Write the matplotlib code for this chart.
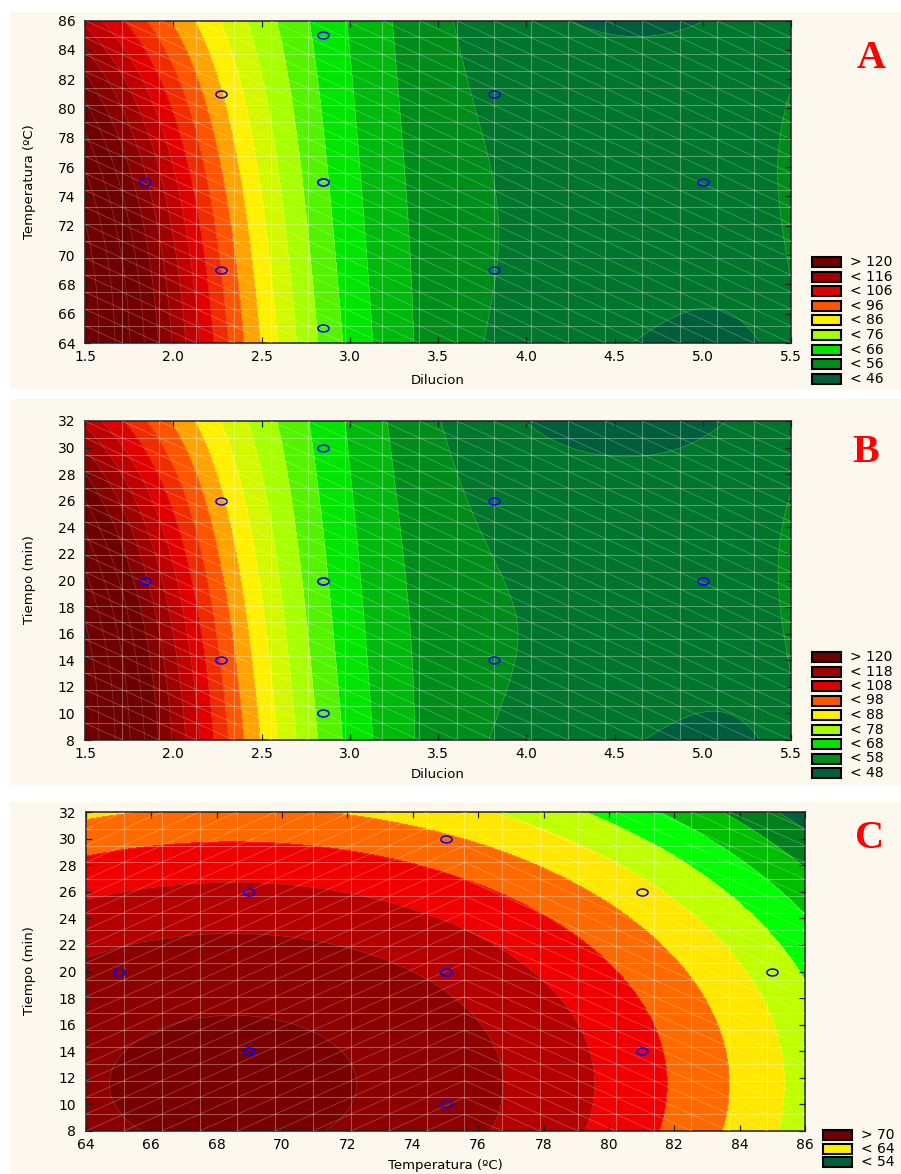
import numpy as np
import matplotlib
matplotlib.use("Agg")
import matplotlib.pyplot as plt
from matplotlib.patches import Rectangle
from matplotlib.path import Path
from matplotlib.collections import LineCollection
from matplotlib.colors import to_rgb

W, H = 901, 1174

# ---------------- Panel A : Dilucion x Temperatura ----------------
A_X_TICKS = [1.5, 2.0, 2.5, 3.0, 3.5, 4.0, 4.5, 5.0, 5.5]
A_Y_TICKS = [64, 66, 68, 70, 72, 74, 76, 78, 80, 82, 84, 86]
A_PTS_X = [1.84, 2.27, 2.27, 2.85, 2.85, 2.85, 2.85, 3.82, 3.82, 5.0]
A_PTS_Y = [75, 81, 69, 85, 75, 75, 65, 81, 69, 75]
# response read along three temperature rows (86, 75, 64 ºC)
A_ROW_T = [86, 75, 64]
A_TOP_D = [1.5, 1.66, 1.8, 1.9, 2.0, 2.19, 2.42, 2.57, 2.8, 3.1, 3.5, 3.8, 4.0, 4.3, 4.6, 5.0, 5.5]
A_TOP_Z = [110, 103.5, 98.5, 93.5, 88.5, 83.5, 78, 73.5, 63.5, 57, 52, 49.5, 48, 45.5, 45, 46, 49]
A_MID_D = [1.5, 1.65, 1.9, 2.1, 2.27, 2.45, 2.63, 2.9, 3.2, 3.5, 3.8, 4.0, 4.3, 4.6, 5.0, 5.5]
A_MID_Z = [140, 124, 113, 103.5, 93.5, 83.5, 73.5, 63.5, 58, 54, 52, 50.5, 49, 48.5, 49, 52]
A_BOT_D = [1.5, 1.75, 1.98, 2.2, 2.33, 2.56, 2.75, 3.0, 3.5, 3.8, 4.0, 4.3, 4.6, 5.0, 5.5]
A_BOT_Z = [145, 130, 118.5, 103.5, 93.5, 83.5, 73.5, 63.5, 55, 51, 49.5, 47, 45, 45.5, 49]
A_LEG_LABELS = ["> 120", "< 116", "< 106", "< 96", "< 86", "< 76", "< 66", "< 56", "< 46"]
A_LEG_LEVELS = [120, 116, 106, 96, 86, 76, 66, 56, 46]

# ---------------- Panel B : Dilucion x Tiempo ----------------
B_X_TICKS = [1.5, 2.0, 2.5, 3.0, 3.5, 4.0, 4.5, 5.0, 5.5]
B_Y_TICKS = [8, 10, 12, 14, 16, 18, 20, 22, 24, 26, 28, 30, 32]
B_PTS_X = [1.84, 2.27, 2.27, 2.85, 2.85, 2.85, 2.85, 3.82, 3.82, 5.0]
B_PTS_Y = [20, 26, 14, 30, 20, 20, 10, 26, 14, 20]
# response read along three time rows (32, 20, 8 min)
B_ROW_T = [32, 20, 8]
B_TOP_D = [1.5, 1.66, 1.8, 1.9, 2.0, 2.19, 2.42, 2.57, 2.8, 3.1, 3.5, 3.8, 4.0, 4.3, 4.6, 5.0, 5.5]
B_TOP_Z = [112, 105.5, 100.5, 95.5, 90.5, 85.5, 80, 75.5, 65.5, 59, 53, 50, 48.5, 46.5, 46, 47, 51]
B_MID_D = [1.5, 1.65, 1.9, 2.1, 2.27, 2.45, 2.63, 2.9, 3.2, 3.5, 3.8, 4.0, 4.3, 4.6, 5.0, 5.5]
B_MID_Z = [142, 126, 115, 105.5, 95.5, 85.5, 75.5, 65.5, 60, 56, 54, 53, 51.5, 51, 51, 54]
B_BOT_D = [1.5, 1.75, 1.98, 2.2, 2.33, 2.56, 2.75, 3.0, 3.5, 3.8, 4.0, 4.3, 4.6, 5.0, 5.5]
B_BOT_Z = [147, 132, 120.5, 105.5, 95.5, 85.5, 75.5, 65.5, 57, 53, 52, 49.5, 47.5, 47.5, 51]
B_LEG_LABELS = ["> 120", "< 118", "< 108", "< 98", "< 88", "< 78", "< 68", "< 58", "< 48"]
B_LEG_LEVELS = [120, 118, 108, 98, 88, 78, 68, 58, 48]

LEG_COLORS = ["#6E0000", "#A00000", "#E00000", "#FF5500", "#FFF000",
              "#A8FF00", "#00E600", "#008C1A", "#005E3C"]

# ---------------- Panel C : Temperatura x Tiempo ----------------
C_X_TICKS = [64, 66, 68, 70, 72, 74, 76, 78, 80, 82, 84, 86]
C_Y_TICKS = [8, 10, 12, 14, 16, 18, 20, 22, 24, 26, 28, 30, 32]
C_PTS_X = [65, 69, 69, 75, 75, 75, 75, 81, 81, 85]
C_PTS_Y = [20, 26, 14, 30, 20, 20, 10, 26, 14, 20]
# fitted response: PEAK - KT*(T - T0)^2 - KS*(t - S0)^2
C_PEAK, C_T0, C_S0, C_KT, C_KS = 70.53, 68.5, 11.5, 0.037, 0.0196
C_LEVELS = [30, 52, 54, 56, 58, 60, 62, 64, 66, 68, 70, 90]
C_BAND_COLORS = ["#005E3C", "#00801C", "#00BE00", "#00FF00", "#C0FF00", "#FFE800",
                 "#FF6A00", "#F00000", "#B40000", "#8C0000", "#780000"]
C_LEG_LABELS = ["> 70", "< 64", "< 54"]
C_LEG_COLORS = ["#6E0000", "#FFF000", "#005E3C"]

CREAM = "#FDF8EE"
plt.rcParams["font.family"] = ["DejaVu Sans"]

fig = plt.figure(figsize=(W / 100, H / 100), dpi=100)


def fx(px):
    return px / W


def fy(py):
    return 1 - py / H


def fit_surface(rows_y, rows_x, rows_z, xc, yc, ysc, deg_x=5, deg_y=2):
    """Least-squares polynomial surface through values read along rows."""
    xs = np.concatenate([np.asarray(r, float) for r in rows_x])
    ys = np.concatenate([np.full(len(r), y, float) for r, y in zip(rows_x, rows_y)])
    zs = np.concatenate([np.asarray(r, float) for r in rows_z])
    terms = [(i, j) for i in range(deg_x + 1) for j in range(deg_y + 1)]

    def design(x, y):
        w = (np.asarray(x) - xc) / 2.0
        v = (np.asarray(y) - yc) / ysc
        return [w ** i * v ** j for i, j in terms]

    M = np.column_stack(design(xs, ys))
    coef, *_ = np.linalg.lstsq(M, zs, rcond=None)

    def evaluate(X, Y):
        return sum(c * b for c, b in zip(coef, design(X, Y)))

    return evaluate


def band_colors(levels, anchor_vals, anchor_cols):
    levels = np.asarray(levels, float)
    centers = (levels[:-1] + levels[1:]) / 2
    order = np.argsort(anchor_vals)
    av = np.asarray(anchor_vals, float)[order]
    rgb = np.array([to_rgb(c) for c in anchor_cols])[order]
    return [tuple(np.interp(c, av, rgb[:, k]) for k in range(3)) for c in centers]


def leg_anchors(levels):
    out = []
    for i, L in enumerate(levels):
        out.append(L + 5 if i == 0 else L - 2.5)
    return out


ellipse_t = np.linspace(0, 2 * np.pi, 41)
RING = Path(np.c_[np.cos(ellipse_t), 0.62 * np.sin(ellipse_t)], closed=True)


def draw_mesh(ax, xr, yr, n=19, split=None):
    xs = np.linspace(xr[0], xr[1], n + 1)
    ys = np.linspace(yr[0], yr[1], n + 1)
    segs = [[(x, yr[0]), (x, yr[1])] for x in xs[1:-1]]
    segs += [[(xr[0], y), (xr[1], y)] for y in ys[1:-1]]
    ax.add_collection(LineCollection(segs, colors="white", linewidths=0.8, alpha=0.32, zorder=3))
    diag = []
    for i in range(n):
        for j in range(n):
            xc = (xs[i] + xs[i + 1]) / 2
            if split is not None and xc < split:
                diag.append([(xs[i], ys[j]), (xs[i + 1], ys[j + 1])])
            else:
                diag.append([(xs[i], ys[j + 1]), (xs[i + 1], ys[j])])
    ax.add_collection(LineCollection(diag, colors="white", linewidths=0.6, alpha=0.25, zorder=3))


def style_axes(ax, xt, yt, xfmt):
    ax.set_xticks(xt)
    ax.set_yticks(yt)
    ax.set_xticklabels([xfmt(v) for v in xt])
    ax.set_yticklabels([str(v) for v in yt])
    ax.tick_params(direction="in", top=True, right=True, length=4, width=0.9,
                   labelsize=10, colors="#222222", labelcolor="black")
    ax.tick_params(axis="x", pad=5)
    ax.tick_params(axis="y", pad=7)
    for s in ax.spines.values():
        s.set_color("#202020")
        s.set_linewidth(1.1)


def draw_points(ax, px, py):
    ax.plot(px, py, linestyle="none", marker=RING, markersize=8,
            markerfacecolor="none", markeredgecolor="#0000FF", markeredgewidth=1.1, zorder=5)


def draw_legend(labels, colors, x_box, y0, dy, box_w=29, box_h=10):
    for k, (lab, col) in enumerate(zip(labels, colors)):
        yc = y0 + k * dy
        fig.patches.append(Rectangle((fx(x_box), fy(yc + box_h / 2)), box_w / W, box_h / H,
                                     transform=fig.transFigure, facecolor=col,
                                     edgecolor="black", linewidth=1.5, zorder=3))
        fig.text(fx(x_box + box_w + 9), fy(yc), lab, fontsize=10, va="center", ha="left",
                 family="DejaVu Sans")


# cream panel backgrounds, kept beneath the axes
for top, bot in [(12, 389), (399, 785), (802, 1174)]:
    fig.patches.append(Rectangle((fx(10), fy(bot)), (W - 10) / W, (bot - top) / H,
                                 transform=fig.transFigure, facecolor=CREAM,
                                 edgecolor="none", zorder=-5))

D = np.linspace(1.5, 5.5, 400)
T = np.linspace(64, 86, 400)
S = np.linspace(8, 32, 400)

# ---------------- A ----------------
axA = fig.add_axes([fx(85), fy(343), (791 - 85) / W, (343 - 20.5) / H])
DD, TT = np.meshgrid(D, T)
surfA = fit_surface(A_ROW_T, [A_TOP_D, A_MID_D, A_BOT_D], [A_TOP_Z, A_MID_Z, A_BOT_Z], 3.5, 75, 11)
ZA = surfA(DD, TT)
levA = np.arange(31, 161, 5)
axA.contourf(DD, TT, ZA, levels=levA,
             colors=band_colors(levA, leg_anchors(A_LEG_LEVELS), LEG_COLORS), zorder=1)
axA.contour(DD, TT, ZA, levels=levA, colors="white", linewidths=0.5, alpha=0.2, zorder=2)
draw_mesh(axA, (1.5, 5.5), (64, 86))
draw_points(axA, A_PTS_X, A_PTS_Y)
axA.set_xlim(1.5, 5.5)
axA.set_ylim(64, 86)
style_axes(axA, A_X_TICKS, A_Y_TICKS, lambda v: f"{v:.1f}")
fig.text(fx(438), fy(381), "Dilucion", fontsize=9.5, ha="center", va="center")
fig.text(fx(30), fy(182), "Temperatura (ºC)", fontsize=9.5, ha="center", va="center", rotation=90)
draw_legend(A_LEG_LABELS, LEG_COLORS, 812, 262, 14.6)
fig.text(fx(871), fy(58), "A", fontsize=29, fontweight="bold", color="#FF0000",
         family="Liberation Serif", ha="center", va="center")

# ---------------- B ----------------
axB = fig.add_axes([fx(85), fy(740), (791 - 85) / W, (740 - 421) / H])
DB, SB = np.meshgrid(D, S)
surfB = fit_surface(B_ROW_T, [B_TOP_D, B_MID_D, B_BOT_D], [B_TOP_Z, B_MID_Z, B_BOT_Z], 3.5, 20, 12)
ZB = surfB(DB, SB)
levB = np.arange(33, 163, 5)
axB.contourf(DB, SB, ZB, levels=levB,
             colors=band_colors(levB, leg_anchors(B_LEG_LEVELS), LEG_COLORS), zorder=1)
axB.contour(DB, SB, ZB, levels=levB, colors="white", linewidths=0.5, alpha=0.2, zorder=2)
draw_mesh(axB, (1.5, 5.5), (8, 32))
draw_points(axB, B_PTS_X, B_PTS_Y)
axB.set_xlim(1.5, 5.5)
axB.set_ylim(8, 32)
style_axes(axB, B_X_TICKS, B_Y_TICKS, lambda v: f"{v:.1f}")
fig.text(fx(438), fy(775), "Dilucion", fontsize=9.5, ha="center", va="center")
fig.text(fx(30), fy(580), "Tiempo (min)", fontsize=9.5, ha="center", va="center", rotation=90)
draw_legend(B_LEG_LABELS, LEG_COLORS, 812, 657, 14.5)
fig.text(fx(866), fy(452), "B", fontsize=29, fontweight="bold", color="#FF0000",
         family="Liberation Serif", ha="center", va="center")

# ---------------- C ----------------
axC = fig.add_axes([fx(86), fy(1131), (805 - 86) / W, (1131 - 812) / H])
TC, SC = np.meshgrid(T, S)
ZC = C_PEAK - C_KT * (TC - C_T0) ** 2 - C_KS * (SC - C_S0) ** 2
axC.contourf(TC, SC, ZC, levels=C_LEVELS, colors=C_BAND_COLORS, zorder=1)
axC.contour(TC, SC, ZC, levels=C_LEVELS[1:-1], colors="white", linewidths=0.5, alpha=0.2, zorder=2)
draw_mesh(axC, (64, 86), (8, 32), split=76)
draw_points(axC, C_PTS_X, C_PTS_Y)
axC.set_xlim(64, 86)
axC.set_ylim(8, 32)
style_axes(axC, C_X_TICKS, C_Y_TICKS, lambda v: str(v))
fig.text(fx(445), fy(1165), "Temperatura (ºC)", fontsize=9.5, ha="center", va="center")
fig.text(fx(30), fy(971), "Tiempo (min)", fontsize=9.5, ha="center", va="center", rotation=90)
draw_legend(C_LEG_LABELS, C_LEG_COLORS, 823, 1135, 13.7)
fig.text(fx(870), fy(838), "C", fontsize=29, fontweight="bold", color="#FF0000",
         family="Liberation Serif", ha="center", va="center")

fig.savefig("out.png", dpi=100, facecolor="white")
